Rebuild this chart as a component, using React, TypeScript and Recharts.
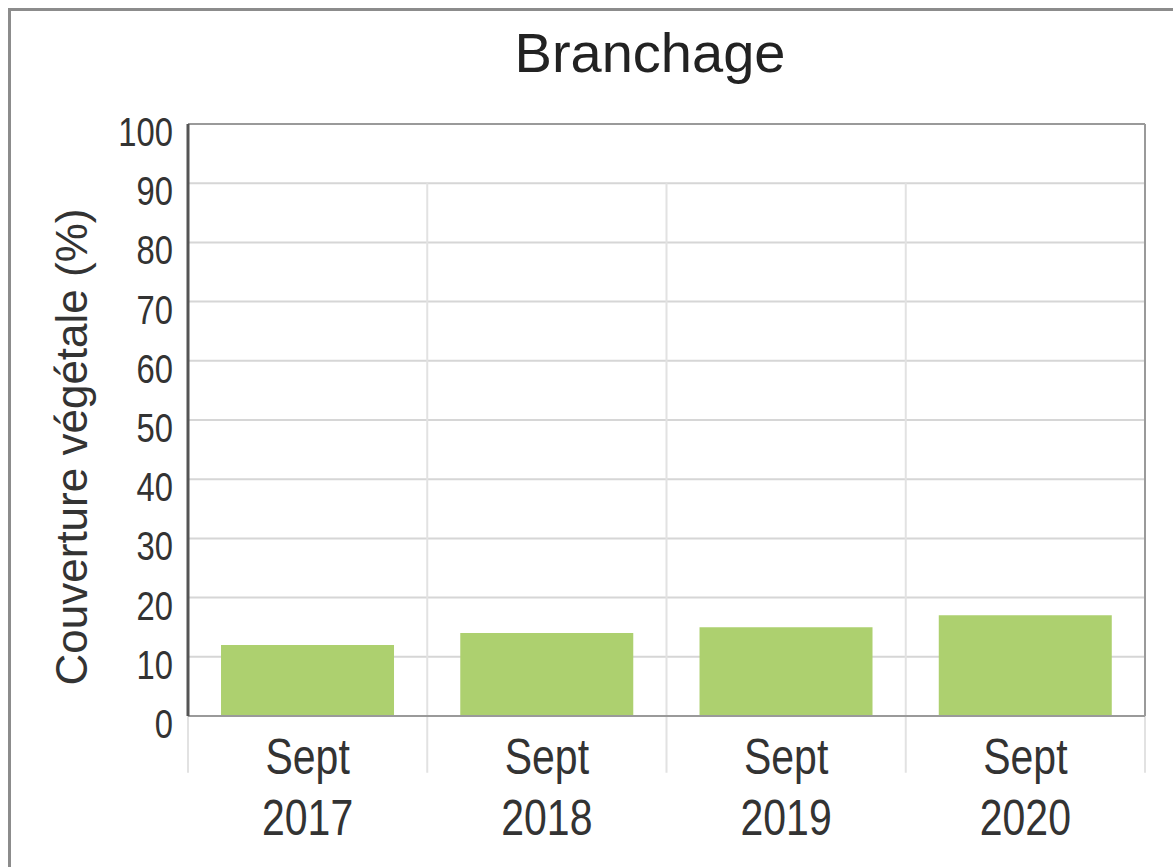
import { Bar, BarChart, CartesianGrid, ReferenceLine, XAxis, YAxis } from "recharts";

const categories = ["Sept 2017", "Sept 2018", "Sept 2019", "Sept 2020"];
const couverture = [12, 14, 15, 17];
const yTicks = [0, 10, 20, 30, 40, 50, 60, 70, 80, 90, 100];

const data = categories.map((c, i) => ({ periode: c, valeur: couverture[i] }));

// band edges: start of every category, plus the end of the last one
const separators = [
  ...categories.map((c) => ({ cat: c, pos: "start" as const })),
  { cat: categories[categories.length - 1], pos: "end" as const },
];

const sans = "'Liberation Sans', Arial, sans-serif";
// the source uses a condensed face; squeeze the regular one instead
const squeeze = 0.82;

function YTick({ x, y, payload }: any) {
  return (
    <text
      transform={`translate(${x},${y + 22}) scale(${squeeze},1)`}
      textAnchor="end"
      fontFamily={sans}
      fontSize={40}
      fill="#333"
    >
      {payload.value}
    </text>
  );
}

function XTick({ x, y, payload }: any) {
  const [mois, annee] = String(payload.value).split(" ");
  return (
    <g transform={`translate(${x},${y}) scale(${squeeze},1)`}>
      <text textAnchor="middle" fontFamily={sans} fontSize={50} fill="#333">
        <tspan x={0} y={50}>{mois}</tspan>
        <tspan x={0} y={111}>{annee}</tspan>
      </text>
    </g>
  );
}

export default function App() {
  return (
    <div style={{ position: "absolute", left: 0, top: 0, width: 1173, height: 867, background: "#fff" }}>
      <div
        style={{
          position: "absolute",
          left: 8,
          top: 8,
          width: 1170,
          height: 856,
          borderTop: "3px solid #8c8c8c",
          borderLeft: "3px solid #8c8c8c",
          borderBottom: "1px solid #ececec",
        }}
      />
      <BarChart
        width={1173}
        height={867}
        data={data}
        margin={{ top: 124, right: 28, bottom: 0, left: 0 }}
        barCategoryGap="13.8%"
        style={{ position: "absolute", left: 0, top: 0 }}
      >
        <CartesianGrid vertical={false} stroke="#d6d6d6" strokeWidth={2} />
        <XAxis
          dataKey="periode"
          height={151}
          tick={<XTick />}
          tickLine={false}
          axisLine={{ stroke: "#9a9a9a", strokeWidth: 2 }}
          interval={0}
        />
        <YAxis
          width={188}
          domain={[0, 100]}
          ticks={yTicks}
          interval={0}
          tick={<YTick />}
          tickLine={false}
          tickMargin={9}
          axisLine={{ stroke: "#555", strokeWidth: 3 }}
        />
        {separators.map((s, i) => (
          <ReferenceLine
            key={i}
            position={s.pos}
            segment={[
              { x: s.cat, y: 90 },
              { x: s.cat, y: -9.6 },
            ]}
            ifOverflow="visible"
            stroke="#e2e2e2"
            strokeWidth={2}
          />
        ))}
        <ReferenceLine y={100} stroke="#9a9a9a" strokeWidth={2} />
        <ReferenceLine
          position="end"
          segment={[
            { x: categories[categories.length - 1], y: 0 },
            { x: categories[categories.length - 1], y: 100 },
          ]}
          stroke="#9a9a9a"
          strokeWidth={2}
        />
        <Bar dataKey="valeur" fill="#add06f" isAnimationActive={false} />
      </BarChart>
      <div
        style={{
          position: "absolute",
          left: 650,
          top: 25,
          transform: "translateX(-50%)",
          fontFamily: sans,
          fontSize: 56,
          lineHeight: 1,
          color: "#222",
          whiteSpace: "nowrap",
        }}
      >
        Branchage
      </div>
      <div
        style={{
          position: "absolute",
          left: 72,
          top: 447,
          transform: "translate(-50%, -50%) rotate(-90deg)",
          fontFamily: sans,
          fontSize: 44,
          lineHeight: 1,
          color: "#333",
          whiteSpace: "nowrap",
        }}
      >
        Couverture végétale (%)
      </div>
    </div>
  );
}
